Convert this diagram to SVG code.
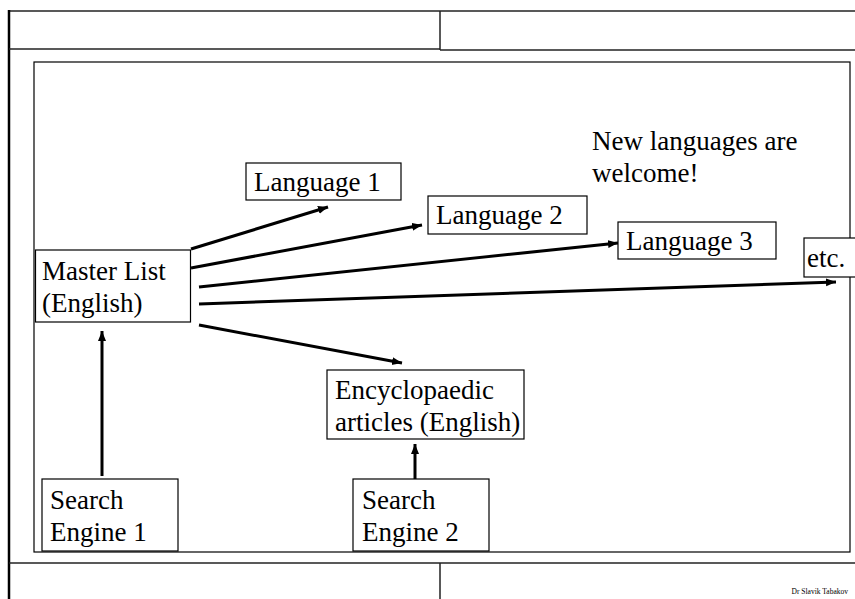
<svg xmlns="http://www.w3.org/2000/svg" width="855" height="599" viewBox="0 0 855 599">
<style>
.t{font-family:"Liberation Serif","Times New Roman",serif;font-size:27px;fill:#000}
.box{fill:#fff;stroke:#000;stroke-width:1.2}
.frame{fill:none;stroke:#222;stroke-width:1.5}
.conn{stroke:#000;stroke-width:3;fill:none;marker-end:url(#ah)}
</style>
<defs>
<marker id="ah" markerUnits="userSpaceOnUse" markerWidth="12" markerHeight="10" refX="10" refY="4" orient="auto">
<path d="M0,0 L10,4 L0,8 Z" fill="#000"/>
</marker>
</defs>
<rect width="855" height="599" fill="#fff"/>
<g id="frame">
<line class="frame" x1="9" y1="11" x2="855" y2="11"/>
<line x1="9" y1="10" x2="9" y2="599" stroke="#000" stroke-width="2.5"/>
<line class="frame" x1="9" y1="49" x2="440" y2="49"/>
<line class="frame" x1="440" y1="50" x2="855" y2="50"/>
<line class="frame" x1="440" y1="11" x2="440" y2="50"/>
<line class="frame" x1="9" y1="563" x2="855" y2="563"/>
<line class="frame" x1="440" y1="563" x2="440" y2="599"/>
<rect x="34" y="62" width="816" height="490" fill="none" stroke="#000" stroke-width="1.2"/>
<text x="848" y="594" text-anchor="end" font-family="Liberation Serif, serif" font-size="7.5">Dr Slavik Tabakov</text>
</g>
<g id="connectors">
<line class="conn" x1="191" y1="249" x2="328" y2="207"/>
<line class="conn" x1="191" y1="268" x2="422" y2="225"/>
<line class="conn" x1="199" y1="287" x2="618" y2="243"/>
<line class="conn" x1="199" y1="304" x2="836" y2="282"/>
<line class="conn" x1="199" y1="325" x2="402" y2="363"/>
<line class="conn" x1="102" y1="476" x2="102" y2="331"/>
<line class="conn" x1="415" y1="479" x2="415" y2="444"/>
</g>
<g id="master">
<rect class="box" x="35.5" y="250" width="155" height="72"/>
<text class="t" x="42" y="280">Master List</text>
<text class="t" x="42" y="312">(English)</text>
</g>
<g id="lang1">
<rect class="box" x="246" y="163" width="155" height="37"/>
<text class="t" x="254" y="191">Language 1</text>
</g>
<g id="lang2">
<rect class="box" x="428" y="196" width="159" height="38"/>
<text class="t" x="436" y="224">Language 2</text>
</g>
<g id="lang3">
<rect class="box" x="618" y="222" width="158" height="37"/>
<text class="t" x="626" y="250">Language 3</text>
</g>
<g id="etc">
<rect class="box" x="804" y="238" width="54" height="39"/>
<text class="t" x="807" y="267">etc.</text>
</g>
<g id="note">
<text class="t" x="592" y="150">New languages are</text>
<text class="t" x="592" y="182">welcome!</text>
</g>
<g id="encyclopaedic">
<rect class="box" x="327" y="370" width="197" height="69"/>
<text class="t" x="335" y="399">Encyclopaedic</text>
<text class="t" x="335" y="431">articles (English)</text>
</g>
<g id="search1">
<rect class="box" x="42" y="479" width="136" height="72"/>
<text class="t" x="50" y="509">Search</text>
<text class="t" x="50" y="541">Engine 1</text>
</g>
<g id="search2">
<rect class="box" x="353" y="479" width="136" height="72"/>
<text class="t" x="362" y="509">Search</text>
<text class="t" x="362" y="541">Engine 2</text>
</g>
</svg>
